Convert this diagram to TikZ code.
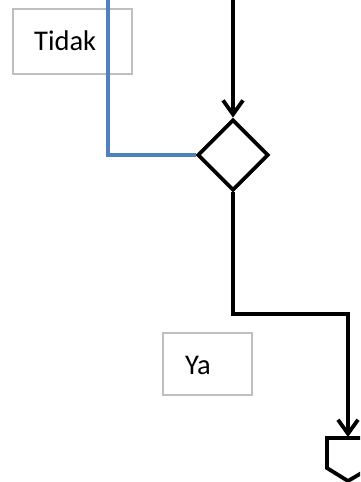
\documentclass[tikz,border=0pt]{standalone}
\usepackage{fontspec}
\setmainfont{Carlito}
\usetikzlibrary{arrows.meta,shapes.geometric}
\definecolor{noblue}{HTML}{4F81BD}
\definecolor{boxgray}{RGB}{191,191,191}
\begin{document}
\begin{tikzpicture}[x=1pt,y=-1pt,
  flow/.style={line width=3.8pt, black},
  noflow/.style={line width=3.2pt, noblue},
  tip/.style={-{Straight Barb[length=14pt,width=20pt]}},
  lblbox/.style={draw=boxgray, line width=1.6pt},
  lbltxt/.style={anchor=west, inner sep=0pt, font=\fontsize{28.5}{34}\selectfont}]
\useasboundingbox (0,0) rectangle (360,482);
\clip (0,0) rectangle (360,482);
% label boxes
\draw[lblbox] (13,9) rectangle (132,74);
\node[lbltxt] (tidak) at (34,41) {Tidak};
\draw[lblbox] (163,333) rectangle (252,395);
\node[lbltxt] (ya) at (185,365) {Ya};
% decision
\node[diamond, draw, line width=3.8pt, minimum width=71pt, minimum height=71pt, inner sep=0pt] (dec) at (233,155) {};
% coordinates
\coordinate (top) at (233,0);
\coordinate (btop) at (108,0);
\coordinate (bend) at (348,314);
\coordinate (conntop) at (348,437);
% connectors
\draw[flow,tip] (top) -- (dec.north);
\draw[noflow] (btop) |- (dec.west);
\draw[flow,tip] (dec.south) |- (bend) -- (conntop);
% off-page connector
\draw[flow, line join=miter] (327,438) -- (370,438) -- (370,468) -- (348,481) -- (327,468) -- cycle;
\end{tikzpicture}
\end{document}
